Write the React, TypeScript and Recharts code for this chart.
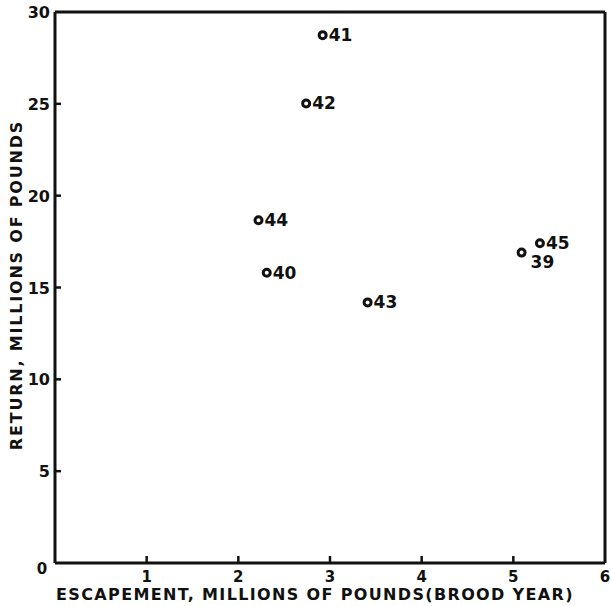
import { ScatterChart, Scatter, XAxis, YAxis, ReferenceLine, Label } from "recharts";

const years = ["39", "40", "41", "42", "43", "44", "45"];
const escapement = [5.09, 2.31, 2.92, 2.74, 3.41, 2.22, 5.29];
const returns = [16.9, 15.8, 28.74, 25.02, 14.19, 18.66, 17.41];
const xTicks = [0, 1, 2, 3, 4, 5, 6];
const yTicks = [0, 5, 10, 15, 20, 25, 30];

const data = years.map((year, i) => ({ year, x: escapement[i], y: returns[i] }));

const font = "'DejaVu Sans', sans-serif";
const ink = "#111";

function PointShape(props: any) {
  const { cx, cy, payload } = props;
  const below = payload.year === "39";
  return (
    <g>
      <circle cx={cx} cy={cy} r={3.5} fill="#fff" stroke={ink} strokeWidth={3} />
      <text
        x={cx + (below ? 9 : 6)}
        y={cy + (below ? 15 : 6)}
        fontFamily={font}
        fontWeight="bold"
        fontSize={17}
        fill={ink}
      >
        {payload.year}
      </text>
    </g>
  );
}

// label sits tickMargin below the inward tick, so the axis line is at y - 19
function XTick(props: any) {
  const { x, y, payload } = props;
  const zero = payload.value === 0;
  const edge = payload.value === 6;
  return (
    <g>
      {!zero && !edge && <line x1={x} x2={x} y1={y - 19} y2={y - 26} stroke={ink} strokeWidth={2.5} />}
      <text
        x={x + (zero ? -13 : 0)}
        y={y + (zero ? -8 : 0)}
        textAnchor="middle"
        fontFamily={font}
        fontWeight="bold"
        fontSize={15}
        fill={ink}
      >
        {payload.value}
      </text>
    </g>
  );
}

function YTick(props: any) {
  const { x, y, payload } = props;
  if (payload.value === 0) return null;
  return (
    <g>
      {payload.value !== 30 && <line x1={x + 5} x2={x + 11} y1={y} y2={y} stroke={ink} strokeWidth={2.5} />}
      <text x={x} y={y + 6} textAnchor="end" fontFamily={font} fontWeight="bold" fontSize={16} fill={ink}>
        {payload.value}
      </text>
    </g>
  );
}

export default function App() {
  return (
    <div style={{ position: "absolute", left: 0, top: 0, width: 611, height: 606, background: "#fff" }}>
      <ScatterChart width={611} height={606} margin={{ top: 12, right: 6, left: 0, bottom: 0 }}>
        <XAxis
          type="number"
          dataKey="x"
          domain={[0, 6]}
          ticks={xTicks}
          interval={0}
          height={43}
          axisLine={{ stroke: ink, strokeWidth: 3 }}
          tickLine={false}
          tickSize={-7}
          tickMargin={26}
          tick={<XTick />}
        >
          <Label
            content={() => (
              <text
                x={315}
                y={600}
                textAnchor="middle"
                fontFamily={font}
                fontWeight="bold"
                fontSize={16}
                letterSpacing={1.35}
                fill={ink}
              >
                ESCAPEMENT, MILLIONS OF POUNDS(BROOD YEAR)
              </text>
            )}
          />
        </XAxis>
        <YAxis
          type="number"
          dataKey="y"
          domain={[0, 30]}
          ticks={yTicks}
          interval={0}
          width={55}
          axisLine={{ stroke: ink, strokeWidth: 3 }}
          tickLine={false}
          tickSize={-6}
          tickMargin={11}
          tick={<YTick />}
        >
          <Label
            content={() => (
              <text
                x={0}
                y={0}
                transform="translate(22, 285) rotate(-90)"
                textAnchor="middle"
                fontFamily={font}
                fontWeight="bold"
                fontSize={16}
                letterSpacing={1.8}
                fill={ink}
              >
                RETURN, MILLIONS OF POUNDS
              </text>
            )}
          />
        </YAxis>
        <ReferenceLine y={30} stroke={ink} strokeWidth={3} />
        <ReferenceLine x={6} stroke={ink} strokeWidth={3} />
        <Scatter data={data} shape={<PointShape />} isAnimationActive={false} />
      </ScatterChart>
    </div>
  );
}
